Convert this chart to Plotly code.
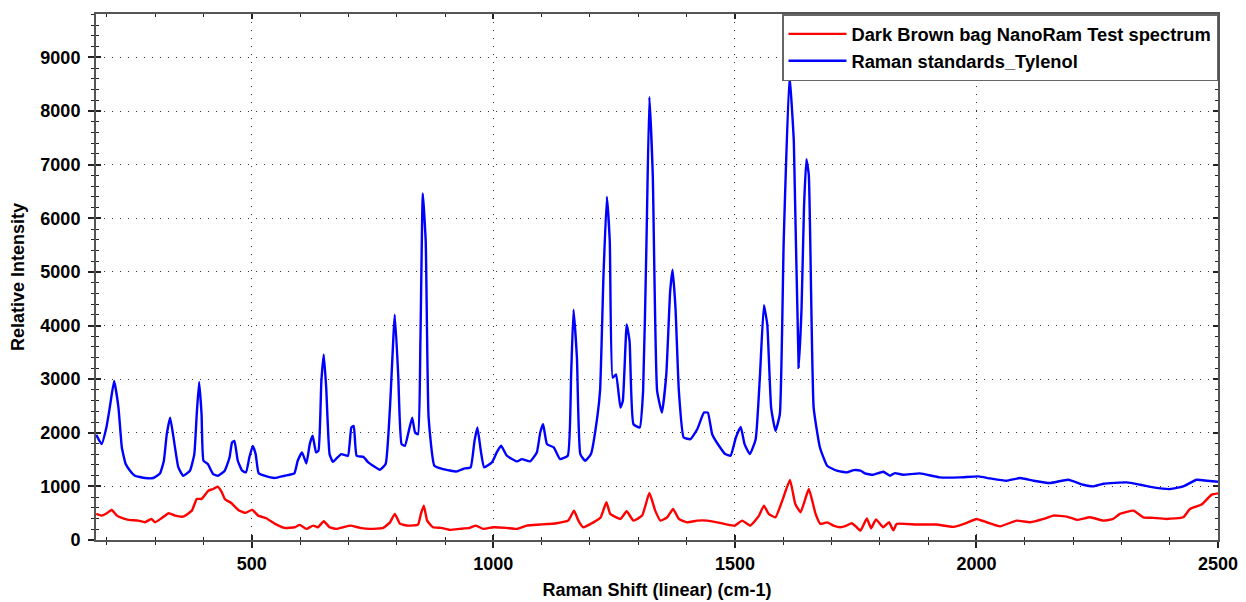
import plotly.graph_objects as go

# ---- data ----
tylenol_shift = [178, 189, 199, 206, 215, 224, 231, 239, 248, 258, 279, 296, 310, 318, 324, 331, 339, 348, 358, 372,
                 381, 386, 391, 396, 400, 409, 420, 430, 444, 454, 459, 464, 471, 480, 488, 495, 502, 508, 514, 526,
                 547, 568, 588, 595, 604, 613, 620, 626, 633, 638, 644, 649, 654, 661, 668, 685, 699, 706, 711, 717,
                 731, 741, 751, 765, 777, 786, 796, 803, 810, 817, 825, 832, 838, 844, 849, 854, 860, 866, 878, 896,
                 924, 941, 953, 961, 967, 974, 981, 997, 1007, 1016, 1028, 1049, 1059, 1076, 1090, 1097, 1103, 1111,
                 1125, 1138, 1154, 1161, 1166, 1173, 1180, 1190, 1202, 1215, 1221, 1228, 1235, 1241, 1247, 1254,
                 1263, 1268, 1276, 1282, 1290, 1303, 1310, 1317, 1323, 1330, 1339, 1349, 1358, 1366, 1371, 1377,
                 1384, 1394, 1408, 1422, 1436, 1444, 1453, 1467, 1480, 1491, 1502, 1512, 1520, 1531, 1543, 1552,
                 1560, 1567, 1575, 1584, 1593, 1601, 1613, 1622, 1632, 1638, 1643, 1648, 1653, 1663, 1676, 1691,
                 1711, 1732, 1746, 1760, 1769, 1786, 1807, 1821, 1831, 1848, 1883, 1924, 1966, 2004, 2028, 2062,
                 2090, 2118, 2152, 2190, 2221, 2242, 2263, 2311, 2339, 2366, 2401, 2428, 2456, 2477, 2500]
tylenol_intensity = [1960, 1790, 2100, 2470, 2965, 2470, 1725, 1416, 1292, 1199, 1156, 1156, 1242, 1478, 1974, 2283,
                     1849, 1353, 1199, 1292, 1602, 2346, 2946, 2346, 1478, 1416, 1230, 1199, 1292, 1543, 1818, 1849,
                     1478, 1292, 1261, 1543, 1756, 1602, 1249, 1199, 1156, 1199, 1242, 1478, 1633, 1428, 1788, 1943,
                     1633, 1664, 2965, 3461, 2841, 1602, 1459, 1602, 1571, 2097, 2128, 1571, 1550, 1447, 1385, 1310,
                     1416, 2469, 4204, 3090, 1788, 1757, 2035, 2283, 2004, 1973, 3708, 6465, 5567, 2283, 1385, 1323,
                     1279, 1335, 1354, 1849, 2097, 1664, 1354, 1447, 1633, 1757, 1571, 1466, 1509, 1466, 1633, 2004,
                     2159, 1788, 1726, 1509, 1571, 3090, 4297, 3398, 1602, 1478, 1602, 2283, 2800, 4948, 6403, 5567,
                     3026, 3090, 2469, 2593, 4019, 3708, 2159, 2097, 2780, 5567, 8262, 6807, 2780, 2376, 3090, 4637,
                     5041, 4328, 2780, 1911, 1880, 2066, 2376, 2376, 1973, 1757, 1602, 1571, 1911, 2109, 1788, 1602,
                     1880, 3090, 4377, 4019, 2469, 2035, 2345, 5567, 8665, 7426, 3212, 4328, 6186, 7104, 6807, 2469,
                     1726, 1385, 1292, 1261, 1304, 1292, 1242, 1217, 1273, 1199, 1248, 1217, 1242, 1168, 1168, 1186,
                     1149, 1106, 1155, 1106, 1062, 1124, 1031, 1000, 1050, 1075, 1031, 981, 950, 1000, 1124, 1106, 1087]

bag_shift = [178, 189, 200, 210, 221, 231, 245, 265, 279, 292, 300, 314, 328, 341, 358, 376, 386, 396, 410, 420, 429,
             438, 444, 458, 472, 486, 501, 513, 530, 548, 568, 589, 599, 613, 627, 637, 649, 661, 675, 689, 704, 724,
             745, 772, 786, 796, 807, 824, 844, 850, 856, 863, 875, 892, 910, 930, 951, 964, 979, 1000, 1027, 1049,
             1069, 1097, 1131, 1155, 1167, 1176, 1186, 1207, 1222, 1234, 1242, 1263, 1276, 1290, 1308, 1323, 1335,
             1346, 1360, 1372, 1384, 1401, 1422, 1443, 1463, 1484, 1500, 1515, 1532, 1550, 1560, 1570, 1584, 1598,
             1614, 1625, 1636, 1653, 1667, 1677, 1691, 1704, 1718, 1731, 1742, 1752, 1760, 1773, 1782, 1792, 1807,
             1819, 1828, 1835, 1876, 1917, 1952, 1980, 2000, 2021, 2049, 2083, 2111, 2139, 2159, 2187, 2208, 2235,
             2263, 2283, 2297, 2325, 2345, 2366, 2394, 2428, 2442, 2466, 2487, 2500]
bag_intensity = [487, 455, 500, 561, 455, 412, 375, 362, 331, 393, 331, 412, 500, 455, 437, 548, 766, 766, 920, 951,
                 994, 889, 766, 685, 561, 506, 561, 455, 406, 300, 225, 238, 282, 207, 269, 238, 350, 238, 207, 238,
                 269, 226, 207, 226, 329, 487, 300, 269, 288, 487, 641, 362, 238, 226, 189, 207, 226, 269, 207, 238,
                 226, 207, 269, 288, 313, 362, 548, 362, 238, 329, 420, 703, 487, 393, 536, 362, 455, 877, 548, 362,
                 424, 579, 393, 329, 362, 362, 329, 288, 269, 362, 269, 455, 641, 487, 424, 734, 1118, 672, 517, 951,
                 487, 300, 329, 269, 238, 269, 313, 238, 176, 400, 220, 385, 238, 331, 180, 300, 288, 288, 245, 320,
                 393, 331, 255, 362, 331, 393, 455, 437, 375, 424, 362, 393, 486, 548, 424, 412, 393, 424, 579, 660,
                 846, 870]

series_names = ["Dark Brown bag NanoRam Test spectrum", "Raman standards_Tylenol"]
x_title = "Raman Shift (linear) (cm-1)"
y_title = "Relative Intensity"
x_ticks = [500, 1000, 1500, 2000, 2500]
y_ticks = [0, 1000, 2000, 3000, 4000, 5000, 6000, 7000, 8000, 9000]

X_RANGE = [177.5, 2500]
Y_RANGE = [0, 9810]
FONT = "Liberation Sans"
AX = "#555555"
FS = 18

fig = go.Figure()
fig.add_trace(go.Scatter(x=bag_shift, y=bag_intensity, mode="lines", name=series_names[0],
                         line=dict(color="#FF0000", width=2.4, shape="spline", smoothing=0.4)))
fig.add_trace(go.Scatter(x=tylenol_shift, y=tylenol_intensity, mode="lines", name=series_names[1],
                         line=dict(color="#0000FF", width=2.4, shape="spline", smoothing=0.4)))
# invisible trace to materialise overlay axes for inner tick marks
fig.add_trace(go.Scatter(x=[None], y=[None], xaxis="x2", yaxis="y2", showlegend=False, hoverinfo="skip"))

tick_font = dict(family=FONT, size=FS, color="#000000", weight="bold")

fig.update_layout(
    width=1246, height=602,
    margin=dict(l=88, r=36, t=4, b=70),
    paper_bgcolor="white", plot_bgcolor="white",
    font=dict(family=FONT, color="#000000"),
    xaxis=dict(range=X_RANGE, tickmode="array", tickvals=x_ticks, ticks="outside", ticklen=6, tickwidth=1.5,
               tickcolor="#222222", showline=True, linecolor=AX, linewidth=2, mirror=True,
               showgrid=True, gridcolor="#333333", gridwidth=1, griddash="1px,7px",
               zeroline=False, tickfont=tick_font,
               minor=dict(dtick=100, ticks="outside", ticklen=3, tickwidth=1.2, tickcolor="#222222", showgrid=False),
               title=dict(text=x_title, font=dict(family=FONT, size=FS, weight="bold"), standoff=11)),
    yaxis=dict(range=Y_RANGE, tickmode="array", tickvals=y_ticks, ticks="outside", ticklen=6, tickwidth=1.5,
               tickcolor="#222222", showline=True, linecolor=AX, linewidth=2, mirror=True,
               showgrid=True, gridcolor="#333333", gridwidth=1, griddash="1px,7px",
               zeroline=False, tickfont=tick_font, ticklabelstandoff=4,
               minor=dict(dtick=200, ticks="outside", ticklen=3, tickwidth=1.2, tickcolor="#222222", showgrid=False),
               title=dict(text=y_title, font=dict(family=FONT, size=FS, weight="bold"), standoff=15)),
    xaxis2=dict(range=X_RANGE, overlaying="x", anchor="y2", side="bottom", tickmode="array", tickvals=x_ticks,
                ticks="inside", ticklen=5, tickwidth=1.5, tickcolor="#222222", mirror="ticks",
                showticklabels=False, showgrid=False, zeroline=False, showline=False,
                minor=dict(dtick=100, ticks="inside", ticklen=3, tickwidth=1.2, tickcolor="#222222")),
    yaxis2=dict(range=Y_RANGE, overlaying="y", anchor="x2", side="left", tickmode="array", tickvals=y_ticks,
                ticks="inside", ticklen=5, tickwidth=1.5, tickcolor="#222222", mirror="ticks",
                showticklabels=False, showgrid=False, zeroline=False, showline=False,
                minor=dict(dtick=200, ticks="inside", ticklen=3, tickwidth=1.2, tickcolor="#222222")),
    legend=dict(x=1, y=1, xanchor="right", yanchor="top", bgcolor="white", bordercolor="#666666", borderwidth=1.5,
                font=dict(family=FONT, size=18.3, color="#000000", weight="bold"), tracegroupgap=0,
                itemwidth=58),
    showlegend=True,
)

fig.write_html("out.html")
